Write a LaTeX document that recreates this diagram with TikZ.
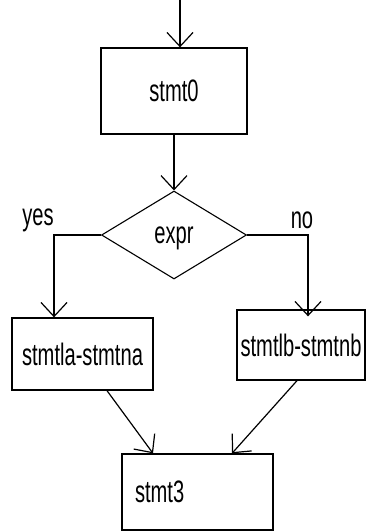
\documentclass[tikz,border=0pt]{standalone}
\usepackage{fontspec}
\setmainfont{Liberation Sans}[FakeStretch=0.65]
\usetikzlibrary{arrows.meta,shapes.geometric}
\tikzset{
  stmtbox/.style={
    draw=black,
    line width=1.3pt,
    fill=white,
    inner sep=2pt,
    align=center,
    font=\fontsize{31}{33}\selectfont
  },
  decision/.style={
    diamond,
    draw=black,
    line width=1.1pt,
    inner sep=0pt,
    text depth=0pt,
    font=\fontsize{31}{33}\selectfont
  },
  edge/.style={-{Straight Barb[length=14pt,width=26pt]}, line width=1.2pt},
  answer/.style={inner sep=0pt, font=\fontsize{31}{33}\selectfont}
}

\begin{document}
\begin{tikzpicture}[x=1pt, y=-1pt]
  \useasboundingbox (0,0) rectangle (366,531);

  % -------------------------------------------------------------------
  % statements
  % -------------------------------------------------------------------
  \node[stmtbox, minimum width=146pt, minimum height=86pt] (s0) at (174,91) {stmt0};
  \node[decision, minimum width=145pt, minimum height=88pt] (expr) at (174,235) {expr};
  \node[stmtbox, minimum width=141pt, minimum height=72pt] (s1) at (82.5,354) {stmtla-stmtna};
  \node[stmtbox, minimum width=128pt, minimum height=70pt] (s2) at (301,345) {stmtlb-stmtnb};
  \node[stmtbox, minimum height=76pt, text width=125pt, align=left, inner xsep=13pt] (s3) at (197.5,492) {stmt3};

  \node[answer] (yeslbl) at (38,220) {yes};
  \node[answer] (nolbl) at (302,220) {no};

  % -------------------------------------------------------------------
  % flow
  % -------------------------------------------------------------------
  \coordinate (entry) at (180,0);
  \draw[edge] (entry) -- (entry |- s0.north);
  \draw[edge] (s0.south) -- (expr.north);
  \draw[edge] (expr.west) -| ([xshift=-28.5pt]s1.north);
  \draw[edge] (expr.east) -| ([xshift=7pt,yshift=-7pt]s2.north);
  \draw[edge] ([xshift=24.5pt]s1.south) -- ([xshift=-44.5pt]s3.north);
  \draw[edge] ([xshift=-4pt]s2.south) -- ([xshift=34.5pt]s3.north);

\end{tikzpicture}
\end{document}
